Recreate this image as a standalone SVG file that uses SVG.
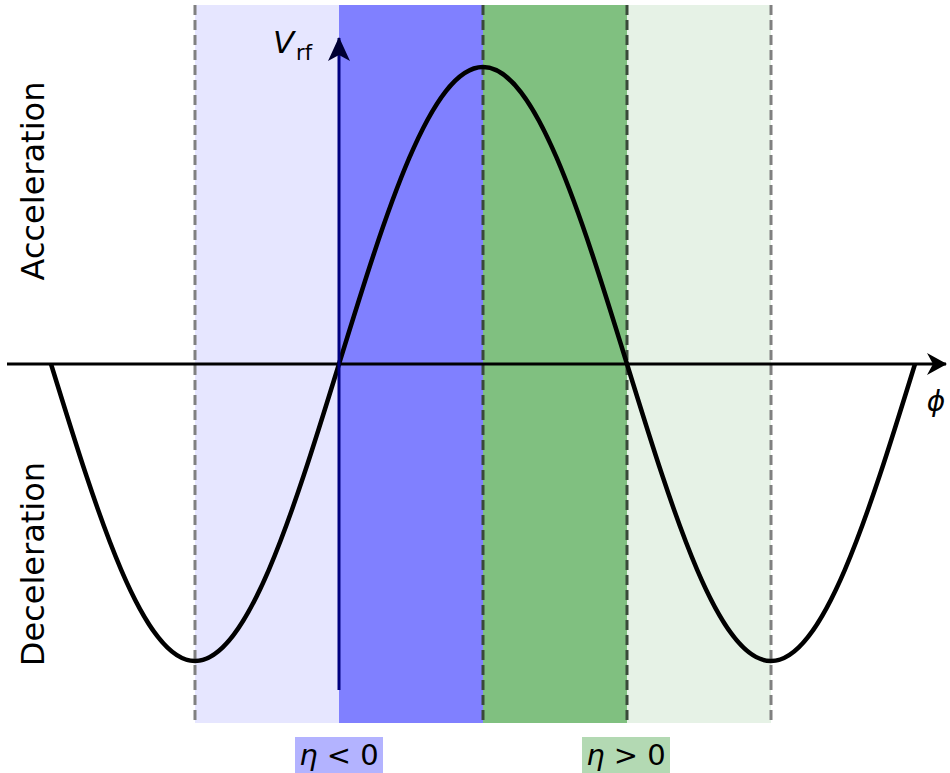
<svg xmlns="http://www.w3.org/2000/svg" width="950" height="773" viewBox="0 0 950 773">
<style>
text{font-family:"DejaVu Sans","Liberation Sans",sans-serif;fill:#000}
.it{font-style:italic}
.dash{stroke-width:3;stroke-dasharray:10 5;fill:none}
</style>
<defs>
<marker id="ah" viewBox="0 0 20 22" refX="19" refY="11" markerWidth="20" markerHeight="22" markerUnits="userSpaceOnUse" orient="auto">
<path d="M0,0 L20,11 L0,22 L6,11 Z" fill="#000"/>
</marker>
<marker id="ahb" viewBox="0 0 24 22" refX="23" refY="11" markerWidth="24" markerHeight="22" markerUnits="userSpaceOnUse" orient="auto">
<path d="M0,0 L24,11 L0,22 L6,11 Z" fill="#000033"/>
</marker>
</defs>
<g id="bands">
<rect x="195" y="5" width="144" height="718" fill="#e6e6ff"/>
<rect x="339" y="5" width="144" height="718" fill="#8080ff"/>
<rect x="483" y="5" width="144" height="718" fill="#80c080"/>
<rect x="627" y="5" width="144" height="718" fill="#e6f2e6"/>
</g>
<g id="connectors">
<line class="dash" x1="195" y1="5" x2="195" y2="723" stroke="#808080"/>
<line class="dash" x1="771" y1="5" x2="771" y2="723" stroke="#808080"/>
<line class="dash" x1="483" y1="5" x2="483" y2="723" stroke="#3a4a3a"/>
<line class="dash" x1="627" y1="5" x2="627" y2="723" stroke="#3a4a3a"/>
<line x1="7" y1="364" x2="946" y2="364" stroke="#000" stroke-width="3" marker-end="url(#ah)"/>
<path d="M51,364 C97.96,516.1 142.88,661 195,661 C247.12,661 292.04,516.1 339,364 C385.96,211.9 430.88,67 483,67 C535.12,67 580.04,211.9 627,364 C673.96,516.1 718.88,661 771,661 C823.12,661 868.04,516.1 915,364" fill="none" stroke="#000" stroke-width="4.5"/>
<line x1="339" y1="690" x2="339" y2="38" stroke="#000080" stroke-width="3" marker-end="url(#ahb)"/>
</g>
<g id="vrf-label">
<text x="273" y="53" font-size="31" class="it">V</text>
<text x="296" y="60" font-size="21">rf</text>
</g>
<g id="phi-label"><text x="936" y="411" font-size="28" class="it" text-anchor="middle">ϕ</text></g>
<g id="acc-label"><text transform="translate(44,181) rotate(-90)" font-size="32" text-anchor="middle">Acceleration</text></g>
<g id="dec-label"><text transform="translate(44,564) rotate(-90)" font-size="32" text-anchor="middle">Deceleration</text></g>
<g id="eta-neg">
<rect x="295" y="737" width="88" height="36" fill="#b3b3ff"/>
<text x="339" y="765" font-size="29" text-anchor="middle"><tspan class="it">η</tspan> &lt; 0</text>
</g>
<g id="eta-pos">
<rect x="582" y="737" width="88" height="36" fill="#b3d9b3"/>
<text x="626" y="765" font-size="29" text-anchor="middle"><tspan class="it">η</tspan> &gt; 0</text>
</g>
</svg>
